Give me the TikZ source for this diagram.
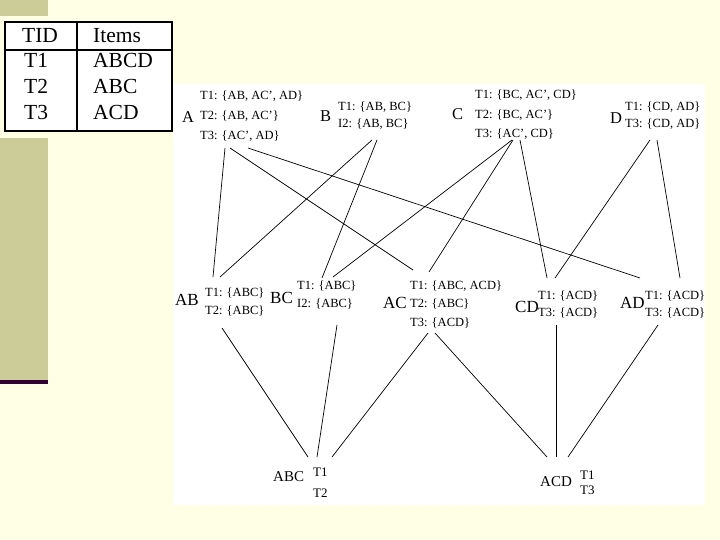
\documentclass[tikz,border=0pt]{standalone}
\usepackage{fontspec}
\setmainfont{Liberation Serif}
\definecolor{bgyellow}{HTML}{FFFFE6}
\definecolor{oliveband}{HTML}{CCCC99}
\definecolor{darkpurple}{HTML}{330033}
\tikzset{
  tl/.style={anchor=west, inner sep=0pt, align=left},
  biglbl/.style={anchor=west, inner sep=0pt, font=\fontsize{16.5}{18}\selectfont},
  midlbl/.style={anchor=west, inner sep=0pt, font=\fontsize{17}{19}\selectfont},
  botlbl/.style={anchor=west, inner sep=0pt, font=\fontsize{15}{17}\selectfont},
  tabtxt/.style={anchor=base west, inner sep=0pt, font=\fontsize{21.5}{23}\selectfont},
  edge/.style={draw=black, line width=0.7pt}
}
\begin{document}
\begin{tikzpicture}[x=1pt,y=-1pt]
\useasboundingbox (0,0) rectangle (720,540);
\fill[bgyellow] (0,0) rectangle (720,540);
\fill[oliveband] (0,0) rectangle (48,16);
\fill[oliveband] (0,138) rectangle (48,380);
\fill[darkpurple] (0,380) rectangle (48,384);
\fill[white] (173,84) rectangle (705,505);

% table
\draw[line width=1.8pt, fill=white] (5,22) rectangle (172,131);
\draw[line width=1.5pt] (77,22) -- (77,131);
\draw[line width=1.5pt] (5,50) -- (172,50);
\node[tabtxt] (hTID) at (22,43) {TID};
\node[tabtxt] (hItems) at (93,43) {Items};
\node[tabtxt] (r1a) at (24,68) {T1};
\node[tabtxt] (r1b) at (93,68) {ABCD};
\node[tabtxt] (r2a) at (24,94) {T2};
\node[tabtxt] (r2b) at (93,94) {ABC};
\node[tabtxt] (r3a) at (24,120) {T3};
\node[tabtxt] (r3b) at (93,120) {ACD};

% top level
\node[biglbl] (A) at (182,117) {A};
\node[tl, font=\fontsize{12.5}{20}\selectfont] (At) at (200,116) {T1: \{AB, AC', AD\}\\T2: \{AB, AC'\}\\T3: \{AC', AD\}};
\node[biglbl] (B) at (320,116) {B};
\node[tl, font=\fontsize{12.5}{17}\selectfont] (Bt) at (338,116) {T1: \{AB, BC\}\\I2: \{AB, BC\}};
\node[biglbl] (C) at (452,114) {C};
\node[tl, font=\fontsize{12.5}{19.5}\selectfont] (Ct) at (475,115) {T1: \{BC, AC', CD\}\\T2: \{BC, AC'\}\\T3: \{AC', CD\}};
\node[biglbl] (D) at (610,118) {D};
\node[tl, font=\fontsize{12.5}{17}\selectfont] (Dt) at (625,116) {T1: \{CD, AD\}\\T3: \{CD, AD\}};

% second level
\node[midlbl] (AB) at (175,300) {AB};
\node[tl, font=\fontsize{12.5}{18}\selectfont] (ABt) at (205,302) {T1: \{ABC\}\\T2: \{ABC\}};
\node[midlbl] (BC) at (270,298) {BC};
\node[tl, font=\fontsize{12.5}{18}\selectfont] (BCt) at (297,295) {T1: \{ABC\}\\I2: \{ABC\}};
\node[midlbl] (AC) at (383,303) {AC};
\node[tl, font=\fontsize{12.5}{18.5}\selectfont] (ACt) at (410,304) {T1: \{ABC, ACD\}\\T2: \{ABC\}\\T3: \{ACD\}};
\node[midlbl] (CD) at (515,307) {CD};
\node[tl, font=\fontsize{12.5}{17}\selectfont] (CDt) at (538,304) {T1: \{ACD\}\\T3: \{ACD\}};
\node[midlbl] (AD) at (620,303) {AD};
\node[tl, font=\fontsize{12.5}{17}\selectfont] (ADt) at (645,304) {T1: \{ACD\}\\T3: \{ACD\}};

% bottom level
\node[botlbl] (ABC) at (273,477) {ABC};
\node[tl, font=\fontsize{13}{21}\selectfont] (ABCt) at (313,483) {T1\\T2};
\node[botlbl] (ACD) at (540,482) {ACD};
\node[tl, font=\fontsize{13}{15}\selectfont] (ACDt) at (580,483) {T1\\T3};

% connectors top -> second
\draw[edge] ([xshift=25pt,yshift=-32pt]At.west) -- ([xshift=8pt,yshift=25pt]ABt.west);
\draw[edge] ([xshift=30pt,yshift=-32pt]At.west) -- ([xshift=3pt,yshift=34pt]ACt.west);
\draw[edge] ([xshift=48pt,yshift=-32pt]At.west) -- ([xshift=-5pt,yshift=26pt]ADt.west);
\draw[edge] ([xshift=34pt,yshift=-24pt]Bt.west) -- ([xshift=15pt,yshift=25pt]ABt.west);
\draw[edge] ([xshift=39pt,yshift=-24pt]Bt.west) -- ([xshift=25pt,yshift=17pt]BCt.west);
\draw[edge] ([xshift=37pt,yshift=-25pt]Ct.west) -- ([xshift=36pt,yshift=18pt]BCt.west);
\draw[edge] ([xshift=38pt,yshift=-25pt]Ct.west) -- ([xshift=19pt,yshift=32pt]ACt.west);
\draw[edge] ([xshift=45pt,yshift=-25pt]Ct.west) -- ([xshift=9pt,yshift=26pt]CDt.west);
\draw[edge] ([xshift=25pt,yshift=-24pt]Dt.west) -- ([xshift=17pt,yshift=26pt]CDt.west);
\draw[edge] ([xshift=32pt,yshift=-24pt]Dt.west) -- ([xshift=35pt,yshift=26pt]ADt.west);

% connectors second -> bottom
\draw[edge] ([xshift=17pt,yshift=-26pt]ABt.west) -- ([xshift=-5pt,yshift=26pt]ABCt.west);
\draw[edge] ([xshift=40pt,yshift=-30pt]BCt.west) -- ([xshift=4pt,yshift=26pt]ABCt.west);
\draw[edge] ([xshift=18pt,yshift=-29pt]ACt.west) -- ([xshift=19pt,yshift=26pt]ABCt.west);
\draw[edge] ([xshift=25pt,yshift=-29pt]ACt.west) -- ([xshift=-33pt,yshift=26pt]ACDt.west);
\draw[edge] ([xshift=18pt,yshift=-21pt]CDt.west) -- ([xshift=-24pt,yshift=26pt]ACDt.west);
\draw[edge] ([xshift=13pt,yshift=-21pt]ADt.west) -- ([xshift=-12pt,yshift=26pt]ACDt.west);
\end{tikzpicture}
\end{document}
